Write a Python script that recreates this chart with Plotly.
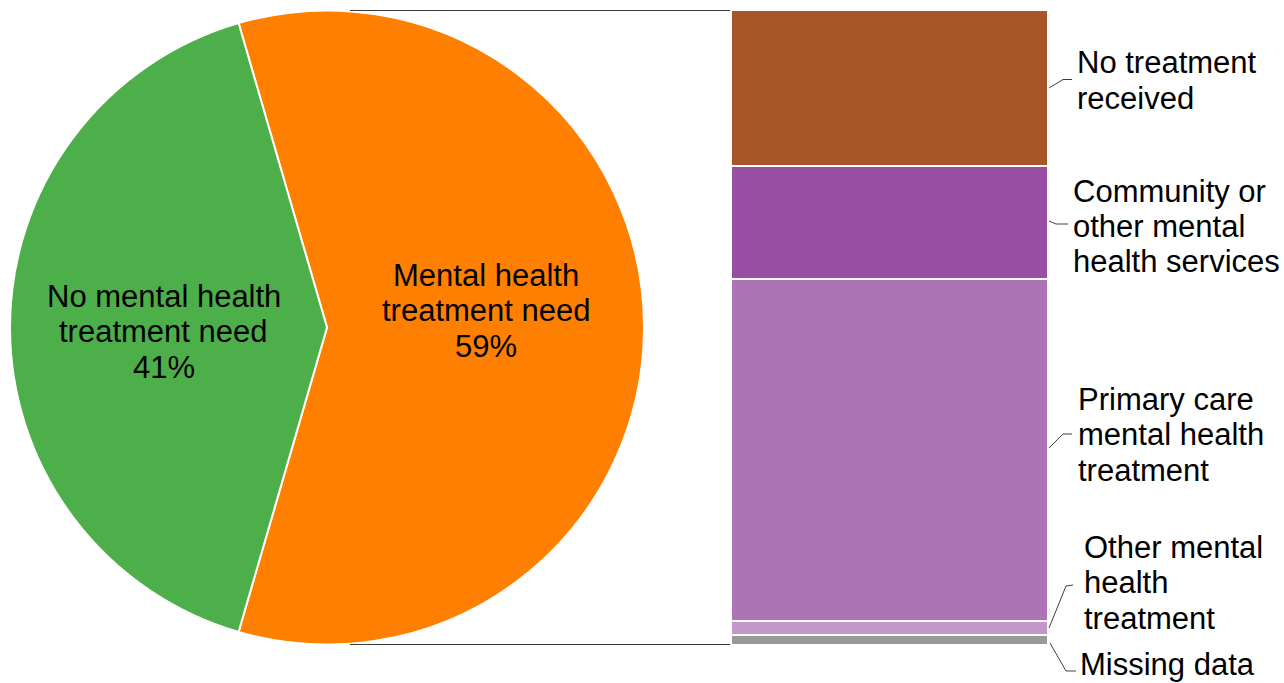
import plotly.graph_objects as go

W, H = 1284, 683

# Share of people with / without a mental health treatment need
need_labels = ["Mental health treatment need", "No mental health treatment need"]
need_lines = [["Mental health", "treatment need"], ["No mental health", "treatment need"]]
need_values = [59, 41]
need_colors = ["#FF7F00", "#4DAF4A"]

# Breakdown of those with a need, listed top of the bar to bottom
treat_labels = [
    "No treatment received",
    "Community or other mental health services",
    "Primary care mental health treatment",
    "Other mental health treatment",
    "Missing data",
]
treat_lines = [
    ["No treatment", "received"],
    ["Community or", "other mental", "health services"],
    ["Primary care", "mental health", "treatment"],
    ["Other mental", "health", "treatment"],
    ["Missing data"],
]
treat_values = [24.6, 17.7, 53.9, 2.3, 1.5]
treat_colors = ["#A65628", "#984EA3", "#AC73B5", "#C497CB", "#999999"]

FONT = "Liberation Sans, Arial, sans-serif"
FS = 31
LINE_GAP = 35.5


def px(x):
    return x / W


def py(y):
    return 1 - y / H


fig = go.Figure()

# Pie: the "need" slice is centred on the right, the other slice on the left
need_share = need_values[0] / sum(need_values)
fig.add_trace(go.Pie(
    labels=need_labels,
    values=need_values,
    marker=dict(colors=need_colors, line=dict(color="white", width=2)),
    sort=False,
    direction="clockwise",
    rotation=90 - 180 * need_share,
    textinfo="none",
    hoverinfo="label+percent",
    showlegend=False,
    domain=dict(x=[px(10), px(644)], y=[py(645), py(10)]),
))

# Stacked bar, bottom segment first
for lab, val, col in reversed(list(zip(treat_labels, treat_values, treat_colors))):
    fig.add_trace(go.Bar(
        x=["Treatment"],
        y=[val],
        name=lab,
        width=1,
        marker=dict(color=col, line=dict(color="white", width=2)),
        showlegend=False,
        hovertemplate=lab + ": %{y}%<extra></extra>",
    ))

annotations = []

# Pie labels: name lines plus the percentage
total_need = sum(need_values)
pie_label_pos = [(486, 275), (163.5, 296)]
for lines, val, (cx, y0) in zip(need_lines, need_values, pie_label_pos):
    all_lines = lines + [f"{round(val / total_need * 100)}%"]
    for i, t in enumerate(all_lines):
        annotations.append(dict(
            text=t, x=px(cx), y=py(y0 + i * LINE_GAP), xref="paper", yref="paper",
            xanchor="center", yanchor="middle", showarrow=False,
            font=dict(family=FONT, size=FS, color="#000000"),
        ))

# Bar segment labels on the right
bar_label_pos = [(1075, 63), (1071, 191), (1076, 399), (1082, 547), (1078, 664)]
for lines, (lx, y0) in zip(treat_lines, bar_label_pos):
    for i, t in enumerate(lines):
        annotations.append(dict(
            text=t, x=px(lx), y=py(y0 + i * LINE_GAP), xref="paper", yref="paper",
            xanchor="left", yanchor="middle", showarrow=False,
            font=dict(family=FONT, size=FS, color="#000000"),
        ))

shapes = []
# Connectors from the pie to the top and bottom of the bar
for yv in (sum(treat_values), 0):
    shapes.append(dict(
        type="line", xref="paper", yref="y",
        x0=px(350), x1=px(730), y0=yv, y1=yv,
        line=dict(color="#3a3a3a", width=2),
    ))

# Leader lines from the bar to its labels
leaders = [
    [(1049, 88), (1063, 79.5), (1072, 79.5)],
    [(1049, 221), (1056, 224), (1068, 224)],
    [(1049, 448), (1063, 434), (1072, 434)],
    [(1049, 628), (1066, 586), (1073, 585)],
    [(1050, 643), (1066, 671), (1076, 671)],
]
for pts in leaders:
    path = "M " + " L ".join(f"{px(x)},{py(y)}" for x, y in pts)
    shapes.append(dict(
        type="path", xref="paper", yref="paper", path=path,
        line=dict(color="#404040", width=1),
    ))

fig.update_layout(
    width=W, height=H,
    margin=dict(l=0, r=0, t=0, b=0),
    paper_bgcolor="white",
    plot_bgcolor="white",
    barmode="stack",
    bargap=0,
    xaxis=dict(domain=[px(731), px(1048)], range=[-0.5, 0.5], visible=False, fixedrange=True),
    yaxis=dict(domain=[py(645), py(10)], range=[0, sum(treat_values)], visible=False, fixedrange=True),
    annotations=annotations,
    shapes=shapes,
    showlegend=False,
)

fig.write_html("out.html")
